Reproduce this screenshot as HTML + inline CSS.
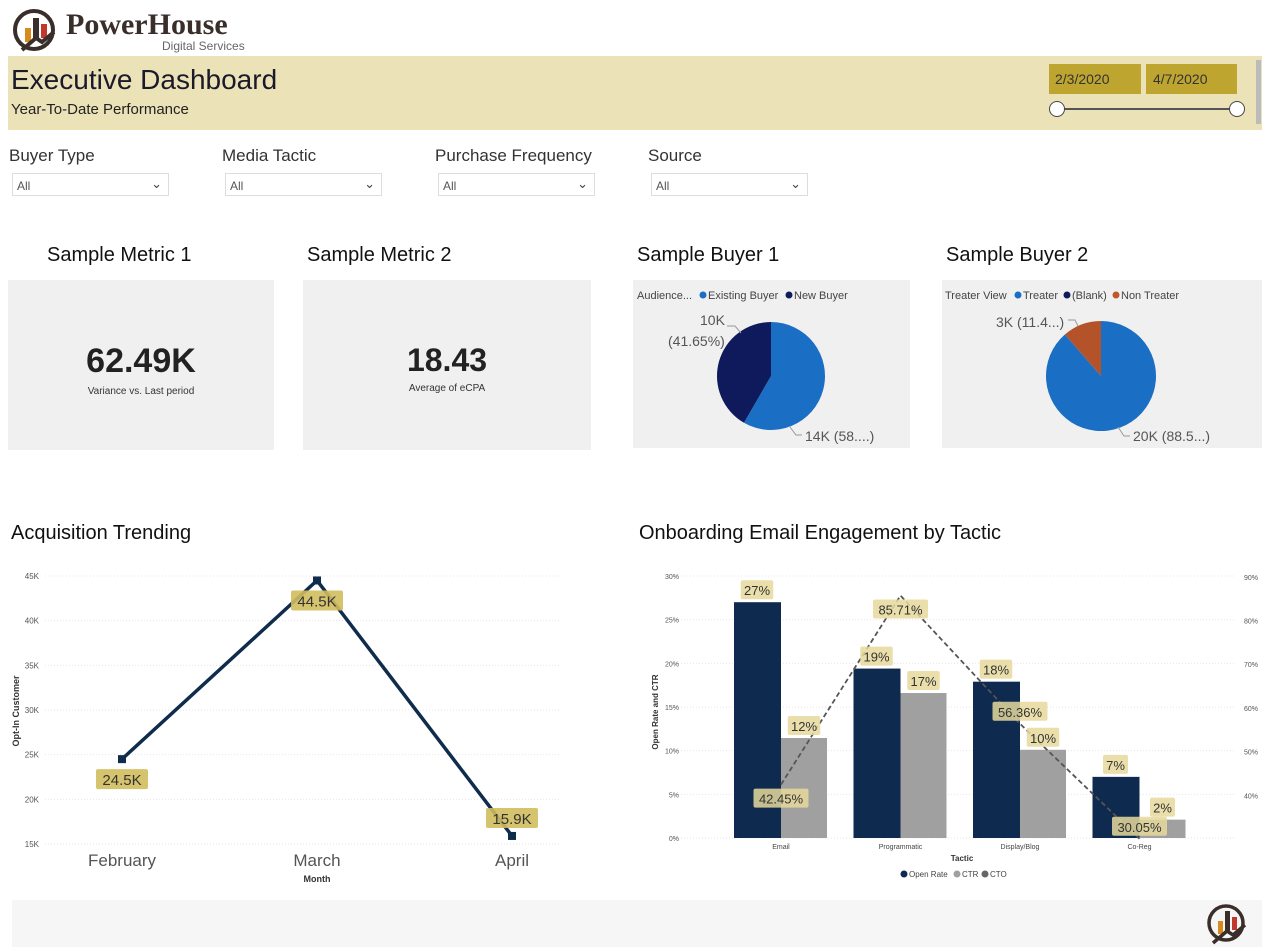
<!DOCTYPE html>
<html><head><meta charset="utf-8"><style>
body{margin:0;width:1267px;height:951px;background:#fff;font-family:"Liberation Sans","DejaVu Sans",sans-serif;position:relative;overflow:hidden}
.a{position:absolute}
.lbl{font-size:17px;color:#333}
.dd{position:absolute;height:23px;border:1px solid #ddd;background:#fff;font-size:12px;color:#555;box-sizing:border-box;padding:5px 0 0 4px}
.dd span{position:absolute;right:6px;top:2px;font-size:13px;color:#444}
.card{position:absolute;background:#f0f0f0}
.ttl{position:absolute;font-size:20px;color:#111}
</style></head><body>
<div class="a" style="left:12px;top:6px;width:260px;height:48px">
<svg width="50" height="48" style="position:absolute;left:0;top:0"><circle cx="22" cy="24" r="19" fill="none" stroke="#3a2e2a" stroke-width="4"/><rect x="13" y="22" width="6" height="14" fill="#d98a1c"/><rect x="21" y="12" width="6" height="22" fill="#3a2e2a"/><rect x="29" y="18" width="6" height="14" fill="#c0392b"/><path d="M10 44 L24 32 L30 36 L42 26" stroke="#3a2e2a" stroke-width="4" fill="none"/></svg>
<div class="a" style="left:54px;top:2px;font-family:'Liberation Serif',serif;font-weight:bold;font-size:30px;color:#3a2e2a">PowerHouse</div>
<div class="a" style="left:150px;top:33px;font-size:12px;color:#666">Digital Services</div>
</div>
<div class="a" style="left:8px;top:56px;width:1254px;height:74px;background:#ece2b8"></div>
<div class="a" style="left:11px;top:64px;font-size:28px;color:#1a1a2a">Executive Dashboard</div>
<div class="a" style="left:11px;top:101px;font-size:15px;color:#222">Year-To-Date Performance</div>
<div class="a" style="left:1049px;top:64px;width:92px;height:30px;background:#bda52f;font-size:14px;color:#333;box-sizing:border-box;padding:7px 0 0 6px">2/3/2020</div>
<div class="a" style="left:1146px;top:64px;width:91px;height:30px;background:#bda52f;font-size:14px;color:#333;box-sizing:border-box;padding:7px 0 0 7px">4/7/2020</div>
<div class="a" style="left:1057px;top:108px;width:180px;height:2px;background:#555"></div>
<div class="a" style="left:1049px;top:101px;width:14px;height:14px;border:1.5px solid #444;border-radius:50%;background:#fff"></div>
<div class="a" style="left:1229px;top:101px;width:14px;height:14px;border:1.5px solid #444;border-radius:50%;background:#fff"></div>
<div class="a" style="left:1256px;top:60px;width:5px;height:64px;background:#bbb"></div>

<div class="a lbl" style="left:9px;top:146px">Buyer Type</div>
<div class="dd" style="left:12px;top:173px;width:157px">All<span>&#8964;</span></div>
<div class="a lbl" style="left:222px;top:146px">Media Tactic</div>
<div class="dd" style="left:225px;top:173px;width:157px">All<span>&#8964;</span></div>
<div class="a lbl" style="left:435px;top:146px">Purchase Frequency</div>
<div class="dd" style="left:438px;top:173px;width:157px">All<span>&#8964;</span></div>
<div class="a lbl" style="left:648px;top:146px">Source</div>
<div class="dd" style="left:651px;top:173px;width:157px">All<span>&#8964;</span></div>

<div class="ttl" style="left:47px;top:244px">Sample Metric 1</div>
<div class="card" style="left:8px;top:280px;width:266px;height:170px">
<div class="a" style="left:0;width:266px;top:62px;text-align:center;font-size:34px;font-weight:bold;color:#222">62.49K</div>
<div class="a" style="left:0;width:266px;top:106px;text-align:center;font-size:10px;color:#333">Variance vs. Last period</div></div>
<div class="ttl" style="left:307px;top:244px">Sample Metric 2</div>
<div class="card" style="left:303px;top:280px;width:288px;height:170px">
<div class="a" style="left:0;width:288px;top:62px;text-align:center;font-size:32px;font-weight:bold;color:#222">18.43</div>
<div class="a" style="left:0;width:288px;top:103px;text-align:center;font-size:10px;color:#333">Average of eCPA</div></div>
<div class="ttl" style="left:637px;top:244px">Sample Buyer 1</div>
<div class="card" style="left:633px;top:280px;width:277px;height:168px"></div>
<div class="ttl" style="left:946px;top:244px">Sample Buyer 2</div>
<div class="card" style="left:942px;top:280px;width:320px;height:168px"></div>

<div class="ttl" style="left:11px;top:522px">Acquisition Trending</div>
<div class="ttl" style="left:639px;top:522px">Onboarding Email Engagement by Tactic</div>
<div class="a" style="left:12px;top:900px;width:1250px;height:47px;background:#f6f6f6"></div>
<svg class="a" style="left:1203px;top:901px" width="46" height="46"><circle cx="23" cy="22" r="17" fill="none" stroke="#3a2e2a" stroke-width="3.5"/><rect x="15" y="20" width="5" height="13" fill="#d98a1c"/><rect x="22" y="10" width="5" height="21" fill="#3a2e2a"/><rect x="29" y="16" width="5" height="13" fill="#c0392b"/><path d="M10 42 L24 30 L30 34 L42 24" stroke="#3a2e2a" stroke-width="3.5" fill="none"/></svg>

<svg id="chart" class="a" style="left:0;top:0" width="1267" height="951" font-family="Liberation Sans, sans-serif"></svg>
<script>
const pie1Labels=["Existing Buyer","New Buyer"];
const pie1Values=[58.35,41.65];
const pie2Labels=["Treater","Non Treater"];
const pie2Values=[88.6,11.4];
const months=["February","March","April"];
const optIn=[24.5,44.5,15.9];
const optInText=["24.5K","44.5K","15.9K"];
const lineTicks=[15,20,25,30,35,40,45];
const tactics=["Email","Programmatic","Display/Blog","Co-Reg"];
const openRate=[27,19.4,17.9,7];
const ctr=[11.45,16.6,10.1,2.1];
const cto=[42.45,85.71,56.36,30.05];
const openText=["27%","19%","18%","7%"];
const ctrText=["12%","17%","10%","2%"];
const ctoText=["42.45%","85.71%","56.36%","30.05%"];
const leftTicks=[0,5,10,15,20,25,30];
const rightTicks=[40,50,60,70,80,90];

const svg=document.getElementById('chart');const NS="http://www.w3.org/2000/svg";
function mk(t,a,p){const e=document.createElementNS(NS,t);for(const k in a)e.setAttribute(k,a[k]);(p||svg).appendChild(e);return e;}
function txt(x,y,s,a){const e=mk('text',Object.assign({x:x,y:y},a));e.textContent=s;return e;}
function pie(cx,cy,r,vals,cols,name){let a=0;const tot=vals.reduce((s,v)=>s+v,0);vals.forEach((v,i)=>{const a2=a+v/tot*2*Math.PI;
const x1=cx+r*Math.sin(a),y1=cy-r*Math.cos(a),x2=cx+r*Math.sin(a2),y2=cy-r*Math.cos(a2);
const p=mk('path',{d:`M${cx} ${cy}L${x1} ${y1}A${r} ${r} 0 ${a2-a>Math.PI?1:0} 1 ${x2} ${y2}Z`,fill:cols[i]});

a=a2;});}
// pie 1
txt(637,299,"Audience...",{"font-size":11,fill:"#444"});
mk('circle',{cx:703,cy:295,r:3.5,fill:"#1a6fc4"});txt(708,299,"Existing Buyer",{"font-size":11,fill:"#444"});
mk('circle',{cx:789,cy:295,r:3.5,fill:"#0f1a5c"});txt(794,299,"New Buyer",{"font-size":11,fill:"#444"});
pie(771,376,54,pie1Values,["#1a6fc4","#0f1a5c"],"buyer1");
txt(700,325,"10K",{"font-size":14,fill:"#555"});txt(668,346,"(41.65%)",{"font-size":14,fill:"#555"});
mk('path',{d:"M727 326 L735 326 L741 333",stroke:"#999",fill:"none"});
txt(805,441,"14K (58....)",{"font-size":14,fill:"#555"});mk('path',{d:"M790 427 L796 435 L802 435",stroke:"#999",fill:"none"});
// pie 2
txt(945,299,"Treater View",{"font-size":11,fill:"#444"});
mk('circle',{cx:1018,cy:295,r:3.5,fill:"#1a6fc4"});txt(1023,299,"Treater",{"font-size":11,fill:"#444"});
mk('circle',{cx:1067,cy:295,r:3.5,fill:"#0f1a5c"});txt(1072,299,"(Blank)",{"font-size":11,fill:"#444"});
mk('circle',{cx:1116,cy:295,r:3.5,fill:"#c0572b"});txt(1121,299,"Non Treater",{"font-size":11,fill:"#444"});
pie(1101,376,55,pie2Values,["#1a6fc4","#b4532a"],"buyer2");
txt(996,327,"3K (11.4...)",{"font-size":14,fill:"#555"});mk('path',{d:"M1068 320 L1075 320 L1078 326",stroke:"#999",fill:"none"});
txt(1133,441,"20K (88.5...)",{"font-size":14,fill:"#555"});mk('path',{d:"M1118 427 L1124 436 L1130 436",stroke:"#999",fill:"none"});

// line chart
const ly=v=>844-(v-15)*(268/30);const lx=i=>122+i*195;
lineTicks.forEach(t=>{mk('line',{x1:45,x2:560,y1:ly(t),y2:ly(t),stroke:"#e6e6e6","stroke-dasharray":"1 2"});txt(39,ly(t)+3,t+"K",{"font-size":8,fill:"#555","text-anchor":"end"});});
txt(0,0,"Opt-In Customer",{"font-size":9,"font-weight":"bold",fill:"#333","text-anchor":"middle",transform:"translate(19,711) rotate(-90)"});
months.forEach((m,i)=>txt(lx(i),866,m,{"font-size":17,fill:"#555","text-anchor":"middle"}));
txt(317,882,"Month",{"font-size":9,"font-weight":"bold",fill:"#333","text-anchor":"middle"});
mk('polyline',{points:optIn.map((v,i)=>lx(i)+","+ly(v)).join(" "),fill:"none",stroke:"#0f2c4c","stroke-width":3.5});
optIn.forEach((v,i)=>{const r=mk('rect',{x:lx(i)-4,y:ly(v)-4,width:8,height:8,fill:"#0f2c4c"});});
const lOff=[20,20,-18];
optIn.forEach((v,i)=>{const cy=ly(v)+lOff[i];mk('rect',{x:lx(i)-26,y:cy-10,width:52,height:20,rx:2,fill:"#d2bd5e","fill-opacity":0.9});txt(lx(i),cy+6,optInText[i],{"font-size":15,fill:"#333","text-anchor":"middle"});});

// bar chart
const by=v=>838-v*(262/30);const ry=v=>839-(v-30)*4.37;const bx=i=>781+i*119.5;
leftTicks.forEach(t=>{mk('line',{x1:672,x2:1235,y1:by(t),y2:by(t),stroke:"#e6e6e6","stroke-dasharray":"1 2"});txt(679,by(t)+3,t+"%",{"font-size":7,fill:"#555","text-anchor":"end"});});
rightTicks.forEach(t=>txt(1244,ry(t)+3,t+"%",{"font-size":7,fill:"#555"}));
txt(0,0,"Open Rate and CTR",{"font-size":8,"font-weight":"bold",fill:"#333","text-anchor":"middle",transform:"translate(658,712) rotate(-90)"});
tactics.forEach((t,i)=>{
 const o=mk('rect',{x:bx(i)-47,y:by(openRate[i]),width:47,height:by(0)-by(openRate[i]),fill:"#0e2a4e"});
 const c=mk('rect',{x:bx(i),y:by(ctr[i]),width:46,height:by(0)-by(ctr[i]),fill:"#a0a0a0"});
 txt(bx(i),849,t,{"font-size":7,fill:"#444","text-anchor":"middle"});});
txt(962,861,"Tactic",{"font-size":8,"font-weight":"bold",fill:"#333","text-anchor":"middle"});
mk('polyline',{points:cto.map((v,i)=>bx(i)+","+ry(v)).join(" "),fill:"none",stroke:"#555","stroke-width":1.8,"stroke-dasharray":"5 3"});
function blab(x,y,s){const w=s.length*7.5+10;mk('rect',{x:x-w/2,y:y-10,width:w,height:19,rx:2,fill:"#e6d99c","fill-opacity":0.85});txt(x,y+5,s,{"font-size":13,fill:"#333","text-anchor":"middle"});}
tactics.forEach((t,i)=>{blab(bx(i)-24,by(openRate[i])-12,openText[i]);blab(bx(i)+23,by(ctr[i])-12,ctrText[i]);});
tactics.forEach((t,i)=>{const dy=[14,14,-12,-12][i];blab(bx(i),ry(cto[i])+dy,ctoText[i]);});
mk('circle',{cx:904,cy:874,r:3.5,fill:"#0e2a4e"});txt(909,877,"Open Rate",{"font-size":8,fill:"#444"});
mk('circle',{cx:957,cy:874,r:3.5,fill:"#a0a0a0"});txt(962,877,"CTR",{"font-size":8,fill:"#444"});
mk('circle',{cx:985,cy:874,r:3.5,fill:"#666"});txt(990,877,"CTO",{"font-size":8,fill:"#444"});
</script>
</body></html>
